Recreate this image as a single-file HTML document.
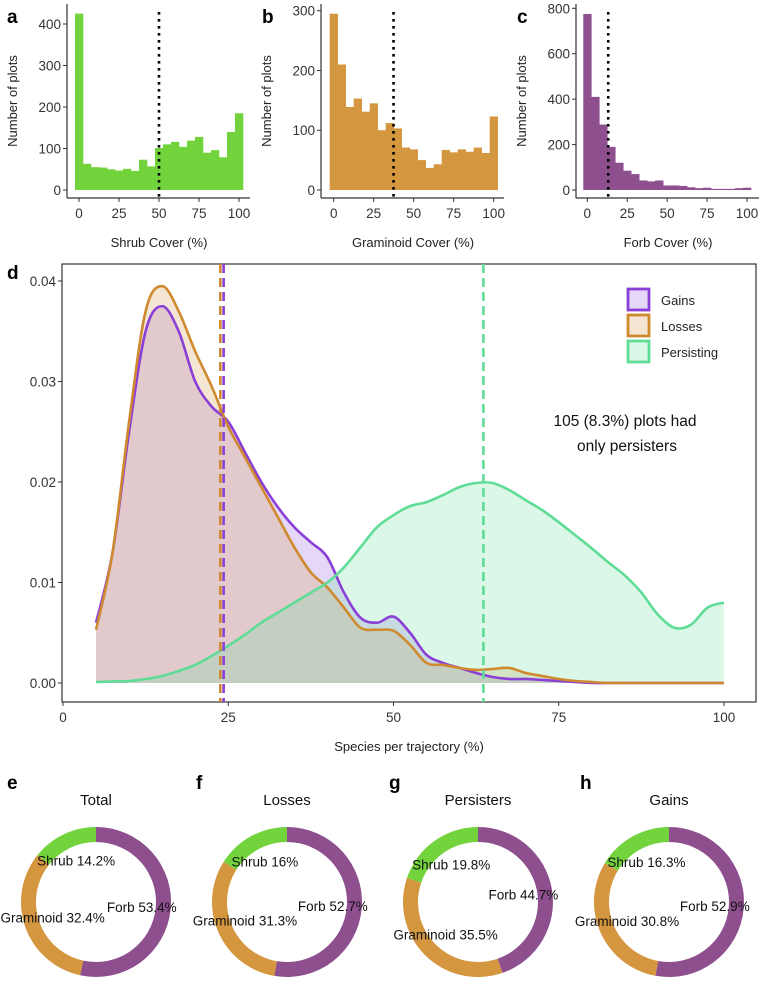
<!DOCTYPE html>
<html><head><meta charset="utf-8"><style>
body{margin:0;background:#fff;}
svg text{font-family:"Liberation Sans",Arial,sans-serif;}
</style></head><body>
<svg id="fig" width="764" height="985" viewBox="0 0 764 985" xmlns="http://www.w3.org/2000/svg"></svg>
<script>
// ---------- DATA ----------
const histBins = [0,5,10,15,20,25,30,35,40,45,50,55,60,65,70,75,80,85,90,95,100];
const shrubCounts = [425,63,55,54,50,47,51,46,73,57,101,110,116,104,119,128,90,96,79,140,185];
const gramCounts = [295,210,139,153,131,145,100,112,103,71,68,50,37,43,67,63,68,64,71,62,123];
const forbCounts = [775,410,288,190,120,85,70,42,38,42,20,20,18,12,8,10,5,5,5,8,10];
const shrubMean = 50, gramMean = 37.4, forbMean = 13.1;
const shrubTicks = [0,100,200,300,400], gramTicks = [0,100,200,300], forbTicks = [0,200,400,600,800];
const xTicksHist = [0,25,50,75,100];

const densX = [5,7.5,10,12.5,15,17.5,20,22.5,25,27.5,30,32.5,35,37.5,40,42.5,45,47.5,50,52.5,55,57.5,60,62.5,65,67.5,70,72.5,75,77.5,80,82.5,85,87.5,90,92.5,95,97.5,100];
const gainsY = [0.006,0.013,0.025,0.035,0.0375,0.035,0.030,0.0275,0.026,0.023,0.020,0.0175,0.0155,0.014,0.0125,0.009,0.0065,0.006,0.0066,0.005,0.0028,0.002,0.0015,0.001,0.0006,0.0004,0.0004,0.0003,0.0002,0.0001,0,0,0,0,0,0,0,0,0];
const lossesY = [0.0053,0.013,0.026,0.037,0.0395,0.037,0.033,0.0295,0.0255,0.0225,0.0195,0.0165,0.0135,0.011,0.0095,0.0075,0.0055,0.0053,0.0052,0.0038,0.002,0.0018,0.0015,0.0013,0.0014,0.0015,0.0010,0.0007,0.0004,0.0002,0.0001,0,0,0,0,0,0,0,0];
const persistY = [0.0001,0.00015,0.0002,0.0004,0.0007,0.0012,0.0018,0.0027,0.0037,0.0048,0.006,0.007,0.008,0.009,0.010,0.0115,0.0135,0.0155,0.0167,0.0176,0.018,0.0187,0.0195,0.0199,0.0199,0.0192,0.0182,0.0172,0.016,0.0147,0.0134,0.012,0.0107,0.009,0.0068,0.0055,0.0058,0.0075,0.008];
const gainsMean = 24.3, lossesMean = 23.8, persistMean = 63.6;
const densXTicks = [0,25,50,75,100];
const densYTicks = [0,0.01,0.02,0.03,0.04];
const densYLabels = ["0.00","0.01","0.02","0.03","0.04"];

const donutTitles = ["Total","Losses","Persisters","Gains"];
const donutLetters = ["e","f","g","h"];
const forbPct = [53.4,52.7,44.7,52.9];
const gramPct = [32.4,31.3,35.5,30.8];
const shrubPct = [14.2,16,19.8,16.3];

// ---------- HELPERS ----------
const svg = document.getElementById('fig');
const NS = 'http://www.w3.org/2000/svg';
function mk(tag, attrs, parent){const e=document.createElementNS(NS,tag);for(const k in attrs)e.setAttribute(k,attrs[k]);(parent||svg).appendChild(e);return e;}
function txt(s, attrs, parent){const e=mk('text',attrs,parent);e.textContent=s;return e;}

// ---------- HISTOGRAMS ----------
function hist(cfg){
  const g=mk('g',{});
  
  
  const sx=v=>cfg.x0+(v)*cfg.kx, sy=v=>190-v*cfg.ky;
  cfg.counts.forEach((c,i)=>{
    const r=mk('rect',{x:sx(histBins[i]-2.5),y:sy(c),width:5*cfg.kx+0.3,height:c*cfg.ky,fill:cfg.color},g);
    
    
  });
  const dl=mk('line',{x1:sx(cfg.mean),x2:sx(cfg.mean),y1:12,y2:198,stroke:'#000','stroke-width':2.6,'stroke-dasharray':'2.6 4.4'},g);
  
  
  mk('line',{x1:cfg.ax,x2:cfg.ax,y1:4,y2:198,stroke:'#333','stroke-width':1.2},g);
  mk('line',{x1:cfg.ax,x2:cfg.ax+183,y1:198,y2:198,stroke:'#333','stroke-width':1.2},g);
  cfg.yt.forEach(t=>{
    mk('line',{x1:cfg.ax-4,x2:cfg.ax,y1:sy(t),y2:sy(t),stroke:'#333','stroke-width':1},g);
    txt(String(t),{x:cfg.ax-6,y:sy(t)+5,'text-anchor':'end','font-size':13.5,fill:'#333'},g);
  });
  xTicksHist.forEach(t=>{
    mk('line',{x1:sx(t),x2:sx(t),y1:198,y2:202,stroke:'#333','stroke-width':1},g);
    txt(String(t),{x:sx(t),y:218,'text-anchor':'middle','font-size':13.5,fill:'#333'},g);
  });
  const yt=txt('Number of plots',{x:0,y:0,'text-anchor':'middle','font-size':13,fill:'#222',transform:`translate(${cfg.ax-50},101) rotate(-90)`},g);
  
  
  const xt=txt(cfg.xtitle,{x:cfg.ax+92,y:247,'text-anchor':'middle','font-size':13,fill:'#222'},g);
  
  
  const L=txt(cfg.letter,{x:cfg.lx,y:23,'font-size':19,'font-weight':'bold',fill:'#000'},g);
  
  
}
hist({name:'shrub-histogram',counts:shrubCounts,x0:79,kx:1.6,ky:166/400,color:'#72d33c',mean:shrubMean,ax:67,yt:shrubTicks,xtitle:'Shrub Cover (%)',letter:'a',lx:7});
hist({name:'graminoid-histogram',counts:gramCounts,x0:333.7,kx:1.6,ky:179.3/300,color:'#d4963e',mean:gramMean,ax:321,yt:gramTicks,xtitle:'Graminoid Cover (%)',letter:'b',lx:262});
hist({name:'forb-histogram',counts:forbCounts,x0:587.3,kx:1.597,ky:181.7/800,color:'#8e4f8e',mean:forbMean,ax:576,yt:forbTicks,xtitle:'Forb Cover (%)',letter:'c',lx:517});

// ---------- DENSITY ----------
const dx=v=>63+v*6.61, dy=v=>683-v*10050;
const dg=mk('g',{});


mk('rect',{x:62,y:264,width:694,height:438,fill:'none',stroke:'#333','stroke-width':1.2},dg);
function smooth(xs,ys){
  const p=xs.map((x,i)=>[dx(x),dy(ys[i])]);
  let d=`M${p[0][0]},${p[0][1]}`;
  for(let i=0;i<p.length-1;i++){
    const p0=p[Math.max(0,i-1)],p1=p[i],p2=p[i+1],p3=p[Math.min(p.length-1,i+2)];
    const c1=[p1[0]+(p2[0]-p0[0])/6,p1[1]+(p2[1]-p0[1])/6];
    const c2=[p2[0]-(p3[0]-p1[0])/6,p2[1]-(p3[1]-p1[1])/6];
    d+=` C${c1[0]},${c1[1]} ${c2[0]},${c2[1]} ${p2[0]},${p2[1]}`;
  }
  return d;
}
const series=[
  {name:'gains',ys:gainsY,line:'#8a3fd6',fill:'rgba(160,110,225,0.28)'},
  {name:'losses',ys:lossesY,line:'#cf8a2f',fill:'rgba(215,165,95,0.28)'},
  {name:'persisting',ys:persistY,line:'#5fdc96',fill:'rgba(110,225,160,0.25)'}
];
series.forEach(s=>{
  const d=smooth(densX,s.ys);
  const a=mk('path',{d:d+` L${dx(100)},${dy(0)} L${dx(5)},${dy(0)} Z`,fill:s.fill,stroke:'none'},dg);
  
  
});
series.forEach(s=>{
  const l=mk('path',{d:smooth(densX,s.ys),fill:'none',stroke:s.line,'stroke-width':2.6},dg);
  
  
});
[[lossesMean,'#cf8a2f','losses'],[gainsMean,'#8a3fd6','gains'],[persistMean,'#5fdc96','persisting']].forEach(m=>{
  const l=mk('line',{x1:dx(m[0]),x2:dx(m[0]),y1:264,y2:702,stroke:m[1],'stroke-width':2.6,'stroke-dasharray':'9 5'},dg);
  
  
});
densYTicks.forEach((t,i)=>{
  mk('line',{x1:58,x2:62,y1:dy(t),y2:dy(t),stroke:'#333','stroke-width':1},dg);
  txt(densYLabels[i],{x:56,y:dy(t)+5,'text-anchor':'end','font-size':13.5,fill:'#333'},dg);
});
densXTicks.forEach(t=>{
  mk('line',{x1:dx(t),x2:dx(t),y1:702,y2:706,stroke:'#333','stroke-width':1},dg);
  txt(String(t),{x:dx(t),y:722,'text-anchor':'middle','font-size':13.5,fill:'#333'},dg);
});
const dxt=txt('Species per trajectory (%)',{x:409,y:751,'text-anchor':'middle','font-size':13,fill:'#222'},dg);


const dL=txt('d',{x:7,y:279,'font-size':19,'font-weight':'bold',fill:'#000'},dg);


[['Gains','#8a3fd6','rgba(160,110,225,0.28)'],['Losses','#cf8a2f','rgba(215,165,95,0.28)'],['Persisting','#5fdc96','rgba(110,225,160,0.25)']].forEach((e,i)=>{
  const lg=mk('g',{},dg);
  
  
  mk('rect',{x:628,y:289+i*26,width:21,height:21,fill:e[2],stroke:e[1],'stroke-width':2.8},lg);
  txt(e[0],{x:661,y:305+i*26,'font-size':13,fill:'#222'},lg);
});
const an=mk('g',{},dg);


txt('105 (8.3%) plots had',{x:625,y:426,'text-anchor':'middle','font-size':15.5,fill:'#111'},an);
txt('only persisters',{x:627,y:451,'text-anchor':'middle','font-size':15.5,fill:'#111'},an);

// ---------- DONUTS ----------
const donutCx=[96,287,478,669], donutCy=902, Ro=75, Ri=60, Rl=46;
function arc(cx,cy,a0,a1){
  const p=(r,a)=>[cx+r*Math.sin(a),cy-r*Math.cos(a)];
  const large=(a1-a0)>Math.PI?1:0;
  const o0=p(Ro,a0),o1=p(Ro,a1),i1=p(Ri,a1),i0=p(Ri,a0);
  return `M${o0} A${Ro},${Ro} 0 ${large} 1 ${o1} L${i1} A${Ri},${Ri} 0 ${large} 0 ${i0} Z`;
}
donutTitles.forEach((t,k)=>{
  const g=mk('g',{});
  
  
  const cx=donutCx[k];
  const parts=[['Forb',forbPct[k],'#8e4f8e'],['Graminoid',gramPct[k],'#d4963e'],['Shrub',shrubPct[k],'#72d33c']];
  const tot=parts.reduce((s,p)=>s+p[1],0);
  let a=0;
  parts.forEach(p=>{
    const a1=a+p[1]/tot*2*Math.PI;
    const s=mk('path',{d:arc(cx,donutCy,a,a1),fill:p[2]},g);
    
    
    p.push((a+a1)/2);
    a=a1;
  });
  parts.forEach(p=>{
    const m=p[3];
    const l=txt(p[0]+' '+p[1]+'%',{x:cx+Rl*Math.sin(m),y:donutCy-Rl*Math.cos(m)+5,'text-anchor':'middle','font-size':13.5,fill:'#111'},g);
    
    
  });
  const tt=txt(t,{x:cx,y:805,'text-anchor':'middle','font-size':15,fill:'#111'},g);
  
  
  const L=txt(donutLetters[k],{x:[7,196,389,580][k],y:789,'font-size':19,'font-weight':'bold',fill:'#000'},g);
  
  
});
</script>
</body></html>
